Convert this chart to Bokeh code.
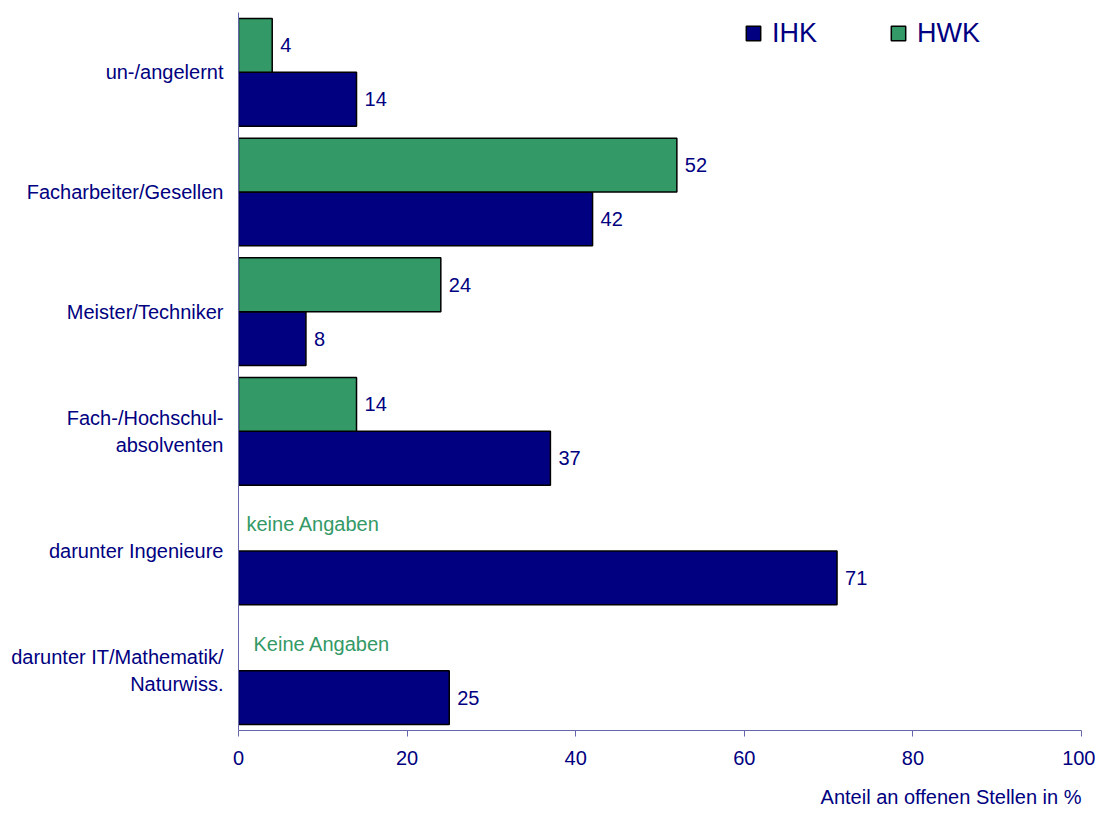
from bokeh.plotting import figure
from bokeh.models import FixedTicker, Legend, LegendItem, Title, ColumnDataSource
from bokeh.embed import file_html
from bokeh.resources import INLINE
from bokeh.core.properties import value

categories = ["un-/angelernt", "Facharbeiter/Gesellen", "Meister/Techniker",
              "Fach-/Hochschul-\nabsolventen", "darunter Ingenieure",
              "darunter IT/Mathematik/\nNaturwiss."]
ihk = [14, 42, 8, 37, 71, 25]
hwk = [4, 52, 24, 14, None, None]
notes = [None, None, None, None, "keine Angaben", "Keine Angaben"]
x_ticks = [0, 20, 40, 60, 80, 100]
x_label = "Anteil an offenen Stellen in %"
series_names = ["IHK", "HWK"]

NAVY = "#000080"
GREEN = "#339966"
AXIS = "#6666aa"
FONT = "Liberation Sans"

n = len(categories)
centers = [n - 0.5 - i for i in range(n)]
bh = 0.45

p = figure(width=1095, height=823, x_range=(0, 100), y_range=(0, n),
           output_backend="svg", toolbar_location=None,
           min_border_left=238, min_border_right=14, min_border_top=12, min_border_bottom=91)
p.outline_line_color = None
p.xgrid.visible = False
p.ygrid.visible = False

# IHK bars
ihk_src = ColumnDataSource(dict(y=[c - bh / 2 for c in centers], v=ihk,
                                lab=[str(v) for v in ihk]))
r_ihk = p.hbar(y="y", right="v", left=0, height=bh, source=ihk_src,
               fill_color=NAVY, line_color="black", line_width=1.5)
p.text(x="v", y="y", text="lab", source=ihk_src, x_offset=8,
       text_baseline="middle", text_align="left", text_color=NAVY,
       text_font=value(FONT), text_font_size="20px")

# HWK bars
hy = [c + bh / 2 for c, v in zip(centers, hwk) if v is not None]
hv = [v for v in hwk if v is not None]
hwk_src = ColumnDataSource(dict(y=hy, v=hv, lab=[str(v) for v in hv]))
r_hwk = p.hbar(y="y", right="v", left=0, height=bh, source=hwk_src,
               fill_color=GREEN, line_color="black", line_width=1.5)
p.text(x="v", y="y", text="lab", source=hwk_src, x_offset=8,
       text_baseline="middle", text_align="left", text_color=NAVY,
       text_font=value(FONT), text_font_size="20px")

# "keine Angaben" notes
ny = [c + bh / 2 for c, t in zip(centers, notes) if t is not None]
nt = [t for t in notes if t is not None]
note_src = ColumnDataSource(dict(x=[0] * len(nt), y=ny, t=nt, off=[8, 15][:len(nt)]))
p.text(x="x", y="y", text="t", source=note_src, x_offset="off",
       text_baseline="middle", text_align="left", text_color=GREEN,
       text_font=value(FONT), text_font_size="20px")

# axes
p.xaxis.ticker = FixedTicker(ticks=x_ticks)
p.xaxis.axis_line_color = AXIS
p.xaxis.major_tick_line_color = AXIS
p.xaxis.major_tick_out = 6
p.xaxis.major_tick_in = 0
p.xaxis.minor_tick_line_color = None
p.xaxis.major_label_text_color = NAVY
p.xaxis.major_label_text_font = FONT
p.xaxis.major_label_text_font_size = "20px"
p.xaxis.major_label_standoff = 14

p.yaxis.ticker = FixedTicker(ticks=centers)
p.yaxis.major_label_overrides = {c: lab for c, lab in zip(centers, categories)}
p.yaxis.axis_line_color = AXIS
p.yaxis.major_tick_line_color = None
p.yaxis.minor_tick_line_color = None
p.yaxis.major_label_text_color = NAVY
p.yaxis.major_label_text_font = FONT
p.yaxis.major_label_text_font_size = "20px"
p.yaxis.major_label_standoff = 9

p.add_layout(Title(text=x_label, align="right", text_color=NAVY, text_font=FONT,
                   text_font_size="20px", text_font_style="normal", standoff=32), "below")

legend = Legend(items=[LegendItem(label=series_names[0], renderers=[r_ihk]),
                       LegendItem(label=series_names[1], renderers=[r_hwk])],
                orientation="horizontal", location=(503, 678),
                padding=3, margin=0, spacing=72, label_standoff=10,
                glyph_width=18, glyph_height=18, label_height=32,
                label_text_font=FONT, label_text_font_size="27px",
                label_text_color=NAVY, border_line_alpha=0, background_fill_alpha=0)
p.add_layout(legend)

open("out.html", "w").write(file_html(p, INLINE))
